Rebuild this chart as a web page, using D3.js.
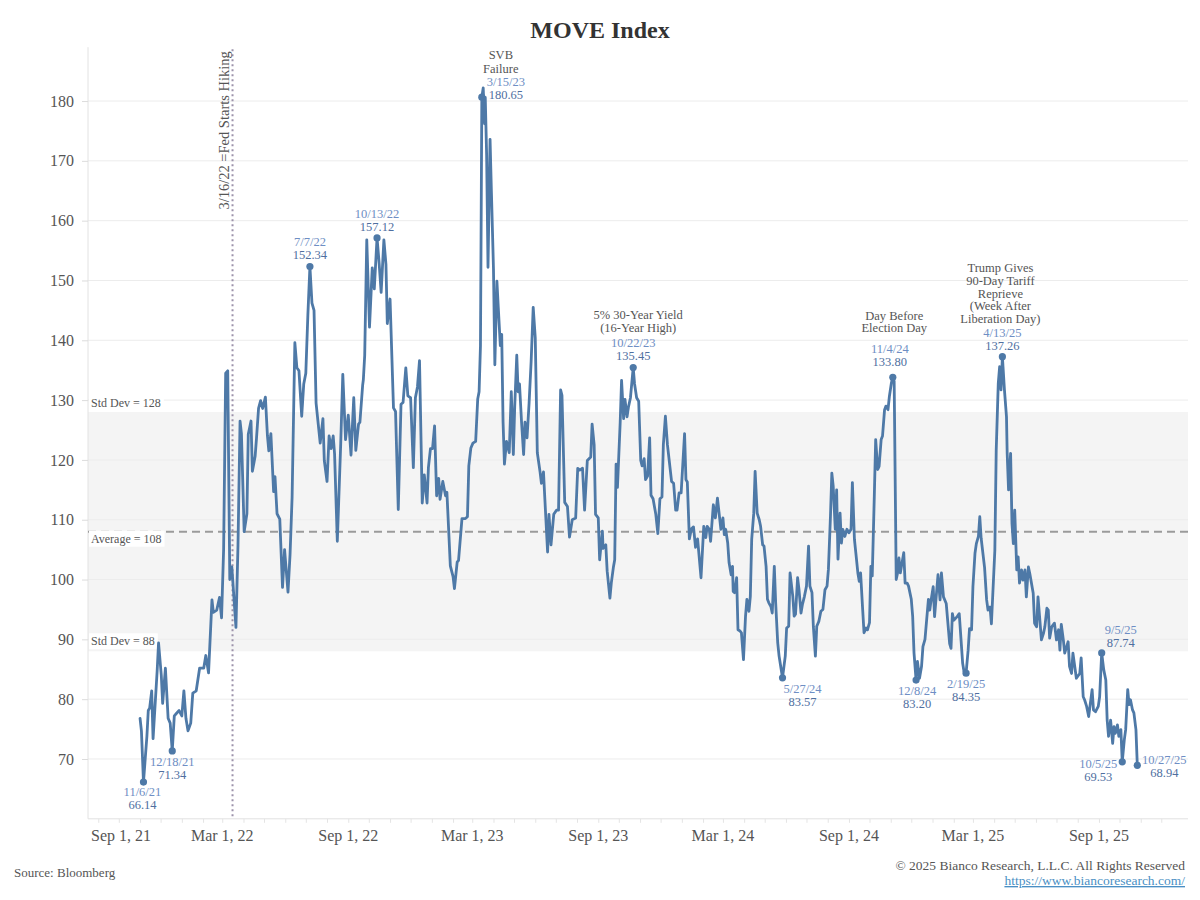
<html>
<head>
<meta charset="utf-8">
<script src="https://d3js.org/d3.v7.min.js"></script>
<style>
  body { margin: 0; background: #fff; }
  text { font-family: "Liberation Serif", "DejaVu Serif", serif; }
</style>
</head>
<body>
<svg width="1200" height="900"></svg>
<script>
// MOVE index (turning points)
var moveDates = [
  "2021-11-01","2021-11-03","2021-11-06","2021-11-11","2021-11-13","2021-11-15","2021-11-18","2021-11-20","2021-11-26","2021-11-28",
  "2021-12-02","2021-12-04","2021-12-08","2021-12-12","2021-12-15","2021-12-18","2021-12-21","2021-12-24","2021-12-28",
  "2022-01-01","2022-01-04","2022-01-07","2022-01-10","2022-01-14","2022-01-17","2022-01-22","2022-01-27",
  "2022-02-02","2022-02-05","2022-02-09","2022-02-14","2022-02-16","2022-02-21","2022-02-25","2022-02-28",
  "2022-03-03","2022-03-06","2022-03-09","2022-03-12","2022-03-15","2022-03-21","2022-03-24","2022-03-27","2022-03-29",
  "2022-04-02","2022-04-06","2022-04-08","2022-04-12","2022-04-14","2022-04-18","2022-04-20","2022-04-23","2022-04-26","2022-04-29",
  "2022-05-03","2022-05-06","2022-05-08","2022-05-11","2022-05-15","2022-05-17","2022-05-20","2022-05-24","2022-05-28","2022-05-31",
  "2022-06-05","2022-06-08","2022-06-11","2022-06-15","2022-06-18","2022-06-21","2022-06-25","2022-06-28",
  "2022-07-01","2022-07-04","2022-07-07","2022-07-10","2022-07-13","2022-07-16","2022-07-22","2022-07-26","2022-07-28",
  "2022-08-01","2022-08-04","2022-08-07","2022-08-10","2022-08-12","2022-08-16","2022-08-21","2022-08-24","2022-08-28",
  "2022-09-01","2022-09-05","2022-09-09","2022-09-12","2022-09-16","2022-09-18","2022-09-22","2022-09-23","2022-09-25","2022-09-28",
  "2022-10-02","2022-10-06","2022-10-09","2022-10-13","2022-10-16","2022-10-19","2022-10-23","2022-10-26","2022-10-28",
  "2022-11-01","2022-11-06","2022-11-09","2022-11-13","2022-11-17","2022-11-20","2022-11-24","2022-11-27",
  "2022-12-01","2022-12-05","2022-12-08","2022-12-11","2022-12-14","2022-12-18","2022-12-21","2022-12-25","2022-12-27","2022-12-30",
  "2023-01-02","2023-01-05","2023-01-08","2023-01-11","2023-01-13","2023-01-17","2023-01-21","2023-01-23","2023-01-28",
  "2023-02-01","2023-02-03","2023-02-07","2023-02-09","2023-02-14","2023-02-19","2023-02-22","2023-02-24","2023-02-27",
  "2023-03-02","2023-03-06","2023-03-09","2023-03-11","2023-03-13","2023-03-15","2023-03-17","2023-03-19","2023-03-20","2023-03-22","2023-03-24","2023-03-27","2023-03-29",
  "2023-04-01","2023-04-03","2023-04-06","2023-04-08","2023-04-11","2023-04-13","2023-04-15","2023-04-17","2023-04-20","2023-04-24","2023-04-27","2023-04-30",
  "2023-05-02","2023-05-05","2023-05-07","2023-05-09","2023-05-12","2023-05-15","2023-05-17","2023-05-20","2023-05-23","2023-05-26","2023-05-29",
  "2023-06-01","2023-06-04","2023-06-08","2023-06-10","2023-06-13","2023-06-15","2023-06-19","2023-06-21","2023-06-24","2023-06-28",
  "2023-07-02","2023-07-05","2023-07-08","2023-07-10","2023-07-14","2023-07-18","2023-07-21","2023-07-25","2023-07-30",
  "2023-08-02","2023-08-05","2023-08-09","2023-08-12","2023-08-16","2023-08-21","2023-08-23","2023-08-26","2023-08-28",
  "2023-09-01","2023-09-03","2023-09-07","2023-09-08","2023-09-12","2023-09-14","2023-09-18","2023-09-20","2023-09-23","2023-09-25","2023-09-27","2023-09-29",
  "2023-10-03","2023-10-05","2023-10-08","2023-10-10","2023-10-13","2023-10-15","2023-10-18","2023-10-22","2023-10-24","2023-10-27","2023-10-30",
  "2023-11-02","2023-11-04","2023-11-07","2023-11-09","2023-11-12","2023-11-15","2023-11-17","2023-11-20","2023-11-24","2023-11-27","2023-11-30",
  "2023-12-03","2023-12-05","2023-12-08","2023-12-11","2023-12-17","2023-12-20","2023-12-23","2023-12-25","2023-12-28","2023-12-31",
  "2024-01-05","2024-01-07","2024-01-09","2024-01-12","2024-01-15","2024-01-18","2024-01-21","2024-01-24","2024-01-29",
  "2024-02-02","2024-02-05","2024-02-07","2024-02-10","2024-02-12","2024-02-16","2024-02-19","2024-02-22","2024-02-27",
  "2024-03-01","2024-03-03","2024-03-05","2024-03-08","2024-03-10","2024-03-13","2024-03-15","2024-03-16","2024-03-18","2024-03-21","2024-03-23","2024-03-26","2024-03-28","2024-03-31",
  "2024-04-03","2024-04-05","2024-04-08","2024-04-10","2024-04-12","2024-04-15","2024-04-17","2024-04-20","2024-04-23","2024-04-25","2024-04-28","2024-04-30",
  "2024-05-03","2024-05-05","2024-05-07","2024-05-10","2024-05-12","2024-05-15","2024-05-17","2024-05-20","2024-05-22","2024-05-25","2024-05-27","2024-05-31",
  "2024-06-02","2024-06-05","2024-06-07","2024-06-11","2024-06-13","2024-06-15","2024-06-18","2024-06-20","2024-06-23","2024-06-25","2024-06-28",
  "2024-07-01","2024-07-04","2024-07-06","2024-07-09","2024-07-11","2024-07-14","2024-07-16","2024-07-19","2024-07-22","2024-07-25","2024-07-28","2024-07-31",
  "2024-08-02","2024-08-05","2024-08-07","2024-08-09","2024-08-12","2024-08-14","2024-08-16","2024-08-19","2024-08-21","2024-08-23","2024-08-26","2024-08-29",
  "2024-09-01","2024-09-04","2024-09-06","2024-09-09","2024-09-11","2024-09-14","2024-09-16","2024-09-18","2024-09-21","2024-09-23","2024-09-26","2024-09-28",
  "2024-10-01","2024-10-03","2024-10-05","2024-10-08","2024-10-10","2024-10-13","2024-10-15","2024-10-18","2024-10-20","2024-10-23","2024-10-25","2024-10-28","2024-10-30",
  "2024-11-02","2024-11-04","2024-11-06","2024-11-09","2024-11-11","2024-11-13","2024-11-15","2024-11-20","2024-11-22","2024-11-25","2024-11-27",
  "2024-12-01","2024-12-03","2024-12-05","2024-12-08","2024-12-10","2024-12-13","2024-12-16","2024-12-18","2024-12-21","2024-12-26","2024-12-28","2024-12-30",
  "2025-01-02","2025-01-04","2025-01-09","2025-01-12","2025-01-14","2025-01-17","2025-01-21","2025-01-26","2025-01-28","2025-01-30",
  "2025-02-01","2025-02-06","2025-02-09","2025-02-14","2025-02-16","2025-02-19","2025-02-22","2025-02-24","2025-02-27",
  "2025-03-01","2025-03-04","2025-03-06","2025-03-09","2025-03-11","2025-03-13","2025-03-18","2025-03-21","2025-03-23","2025-03-26","2025-03-28",
  "2025-04-02","2025-04-04","2025-04-07","2025-04-09","2025-04-11","2025-04-13","2025-04-16","2025-04-19","2025-04-20","2025-04-22","2025-04-25","2025-04-27","2025-04-29",
  "2025-05-01","2025-05-04","2025-05-06","2025-05-08","2025-05-11","2025-05-13","2025-05-16","2025-05-18","2025-05-21","2025-05-23","2025-05-28","2025-05-30",
  "2025-06-02","2025-06-04","2025-06-09","2025-06-12","2025-06-14","2025-06-17","2025-06-19","2025-06-21","2025-06-24","2025-06-28",
  "2025-07-01","2025-07-04","2025-07-06","2025-07-08","2025-07-11","2025-07-13","2025-07-18","2025-07-20","2025-07-23","2025-07-25","2025-07-30",
  "2025-08-04","2025-08-06","2025-08-09","2025-08-11","2025-08-14","2025-08-17","2025-08-22","2025-08-24","2025-08-27","2025-08-31",
  "2025-09-02","2025-09-05","2025-09-08","2025-09-11","2025-09-13","2025-09-15","2025-09-18","2025-09-21","2025-09-23","2025-09-25","2025-09-28","2025-09-30",
  "2025-10-03","2025-10-05","2025-10-08","2025-10-10","2025-10-13","2025-10-15","2025-10-17","2025-10-20","2025-10-22","2025-10-25","2025-10-27"
];
var moveValues = [
  76.8,74.7,66.14,73.8,78.1,78.5,81.4,73.4,84.8,89.4,
  84.0,79.3,85.2,76.8,76.0,71.34,77.2,77.6,78.1,
  77.2,81.4,76.8,74.7,76.0,81.0,81.4,85.2,
  85.2,87.3,84.4,96.6,94.5,94.9,97.0,93.6,
  105.0,134.5,134.9,100.0,102.1,92.0,105.8,126.5,124.4,
  108.0,111.0,124.3,126.5,118.1,120.6,123.6,128.6,129.9,128.6,
  130.5,124.0,121.5,124.4,114.7,117.2,111.0,110.1,98.7,105.0,
  97.9,104.2,113.8,139.6,135.4,134.9,127.3,132.7,
  134.5,144.2,152.34,146.2,145.0,129.5,122.8,126.9,119.9,
  116.4,124.0,121.9,124.0,121.0,106.4,122.8,134.3,123.4,
  127.5,120.8,130.4,121.6,126.0,126.3,132.5,133.4,137.5,156.8,
  142.2,152.1,148.6,157.12,153.0,148.0,156.8,152.7,142.8,
  146.9,128.7,128.1,111.7,129.3,129.6,135.4,130.7,
  130.4,118.7,130.4,132.2,136.6,112.8,117.5,112.8,118.7,121.9,
  121.9,125.7,114.0,116.9,113.4,116.4,114.0,114.6,102.3,
  100.5,98.5,102.9,103.2,110.2,110.2,110.5,119.0,122.0,
  122.8,123.1,130.2,131.4,139.1,180.65,182.2,176.2,180.6,171.0,152.2,173.6,164.7,
  151.9,135.9,149.9,145.5,139.1,141.0,126.3,119.3,123.1,121.2,131.4,120.9,
  128.9,137.5,131.4,132.7,126.3,120.9,126.3,123.7,129.5,136.5,145.5,
  140.4,121.2,118.0,116.1,118.0,113.5,104.6,110.9,105.8,110.9,
  111.6,111.6,131.7,130.8,112.9,112.2,107.1,110.0,110.3,
  118.6,118.3,118.6,111.6,119.9,120.5,126.0,122.5,110.9,
  110.3,103.3,108.1,105.2,105.8,101.4,96.9,99.4,102.0,103.3,119.3,115.4,
  126.3,133.3,126.9,130.1,127.2,128.8,130.4,135.45,132.7,130.4,129.8,
  119.9,119.0,120.2,116.7,117.3,123.7,114.1,113.5,110.9,107.7,113.5,
  113.8,122.5,127.3,122.5,116.4,116.1,111.6,111.6,114.5,114.5,
  124.4,116.7,116.3,106.8,108.5,108.8,105.4,106.8,100.3,
  108.9,107.0,108.9,108.4,106.4,112.5,110.3,113.6,108.4,
  110.3,107.5,108.4,106.1,102.8,100.8,102.2,98.0,97.8,100.3,91.6,91.4,91.1,86.6,
  93.9,96.7,94.7,97.2,106.7,111.1,118.1,111.1,110.0,108.9,105.8,105.6,
  102.2,96.7,96.1,95.5,94.4,102.2,96.1,89.4,87.2,85.0,83.57,87.2,
  91.9,92.2,101.1,97.2,93.9,94.2,100.3,98.4,94.4,95.8,97.2,
  98.9,105.6,98.9,97.8,92.2,87.2,92.2,93.0,94.7,95.0,98.3,98.9,
  101.7,110.6,117.8,115.6,108.4,115.0,103.4,111.1,106.1,108.4,107.2,108.4,
  107.8,108.4,116.2,106.7,104.5,101.1,99.7,101.1,95.0,91.1,91.9,91.6,
  92.8,102.2,100.6,113.9,123.4,118.4,118.9,123.4,124.0,128.4,129.0,128.4,130.6,
  132.9,133.80,133.1,100.0,101.1,103.6,101.1,104.5,99.4,99.4,98.9,
  96.7,93.9,87.7,83.20,86.3,83.5,85.5,88.8,90.0,96.7,94.9,96.6,
  98.8,93.8,100.8,96.6,101.1,97.1,96.0,89.3,88.5,94.3,
  93.2,93.8,94.3,86.0,84.6,84.35,88.2,91.8,91.6,
  98.8,104.4,106.0,107.2,110.5,106.9,102.0,96.6,94.9,95.4,92.6,
  104.9,121.6,132.8,135.6,131.7,137.26,131.7,127.2,121.1,115.0,121.1,109.4,106.0,
  111.6,101.6,103.8,99.4,101.6,99.9,101.6,97.1,102.1,101.0,97.7,92.7,
  92.1,97.1,89.9,91.0,92.1,95.2,94.9,90.2,92.1,92.7,
  89.9,91.6,88.2,92.5,89.9,87.7,89.6,85.5,84.3,87.7,83.5,
  84.3,86.9,80.4,79.9,78.8,77.1,81.6,78.2,77.9,78.8,
  80.4,87.74,84.9,83.2,76.5,73.8,76.5,72.6,75.4,74.3,75.7,73.8,
  74.9,69.53,73.2,74.9,81.6,79.1,79.9,78.2,77.7,74.9,68.94
];

var averageLevel = 108;
var stdDevHigh = 128;
var stdDevLow = 88;
var fedHikeDate = "2022-03-16";

var yTickValues = [70, 80, 90, 100, 110, 120, 130, 140, 150, 160, 170, 180];
var xTickDates = ["2021-09-01","2022-03-01","2022-09-01","2023-03-01","2023-09-01","2024-03-01","2024-09-01","2025-03-01","2025-09-01"];
var xTickLabels = ["Sep 1, 21","Mar 1, 22","Sep 1, 22","Mar 1, 23","Sep 1, 23","Mar 1, 24","Sep 1, 24","Mar 1, 25","Sep 1, 25"];

var calloutDates = ["2021-11-06","2021-12-18","2022-07-07","2022-10-13","2023-03-15","2023-10-22","2024-05-27","2024-11-04","2024-12-08","2025-02-19","2025-04-13","2025-09-05","2025-10-05","2025-10-27"];
var calloutValues = [66.14, 71.34, 152.34, 157.12, 180.65, 135.45, 83.57, 133.80, 83.20, 84.35, 137.26, 87.74, 69.53, 68.94];
var calloutNotes = [[], [], [], [], ["SVB", "Failure"], ["5% 30-Year Yield", "(16-Year High)"], [], ["Day Before", "Election Day"], [], [],
  ["Trump Gives", "90-Day Tariff", "Reprieve", "(Week After", "Liberation Day)"], [], [], []];

// label placement for each callout (pixels, relative to the marker)
var calloutPlacement = [
  {dx: -1, dy: 14}, {dx: 0, dy: 15}, {dx: 0, dy: -20}, {dx: 0, dy: -20},
  {dx: 24, dy: -11, ndx: 19, gap: 13, step: 14},
  {dx: 0, dy: -21, ndx: 5, gap: 15, step: 12.8},
  {dx: 20, dy: 15}, {dx: -3, dy: -24, ndx: 1.5, gap: 21, step: 12.8},
  {dx: 1, dy: 15}, {dx: 0, dy: 15},
  {dx: 0, dy: -20, ndx: -2, gap: 13.5, step: 12.8},
  {dx: 19, dy: -19}, {dx: -24, dy: 6}, {dx: 27, dy: -1}
];

var parse = d3.timeParse("%Y-%m-%d");
var fmtDate = d3.timeFormat("%-m/%-d/%y");
var fmtVal = d3.format(".2f");

var series = moveDates.map(function(d, i) { return {date: parse(d), value: moveValues[i]}; });

var svg = d3.select("svg");
var plotLeft = 88, plotRight = 1188, plotTop = 47.2, plotBottom = 818.8;

var x = d3.scaleTime()
  .domain([parse("2021-08-17"), parse("2026-01-09")])
  .range([plotLeft, plotRight]);
var y = d3.scaleLinear()
  .domain([60, 189])
  .range([plotBottom, plotTop]);

var lineColor = "#4e79a7";
var textGray = "#555";

// std dev band
svg.append("rect")
  .attr("x", plotLeft).attr("width", plotRight - plotLeft)
  .attr("y", y(stdDevHigh)).attr("height", y(stdDevLow) - y(stdDevHigh))
  .attr("fill", "#f4f4f4");

// gridlines
svg.append("g").selectAll("line")
  .data(yTickValues)
  .enter().append("line")
  .attr("x1", plotLeft).attr("x2", plotRight)
  .attr("y1", function(d) { return y(d); })
  .attr("y2", function(d) { return y(d); })
  .attr("stroke", "#ececec").attr("stroke-width", 1);

// y axis
var yAxis = svg.append("g")
  .attr("transform", "translate(" + plotLeft + ",0)")
  .call(d3.axisLeft(y).tickValues(yTickValues).tickSize(6).tickPadding(8));
yAxis.select(".domain").attr("stroke", "#e2e2e2").attr("d", "M0," + plotTop + "V" + plotBottom);
yAxis.selectAll(".tick line").attr("stroke", "#dcdcdc");
yAxis.selectAll(".tick text")
  .attr("fill", textGray)
  .style("font-size", "16px")
  .style("font-family", "'Liberation Serif', serif");

// x axis: monthly minor ticks plus labelled ticks
var months = d3.timeMonth.range(parse("2021-09-01"), parse("2026-01-01"));
var xAxis = svg.append("g")
  .attr("transform", "translate(0," + plotBottom + ")")
  .call(d3.axisBottom(x).tickValues(months).tickSize(4).tickFormat(""));
xAxis.select(".domain").attr("stroke", "#e2e2e2").attr("d", "M" + plotLeft + ",0H" + plotRight);
xAxis.selectAll(".tick line").attr("stroke", "#e4e4e4");

svg.append("g").selectAll("text")
  .data(xTickDates)
  .enter().append("text")
  .attr("x", function(d) { return Math.max(x(parse(d)), plotLeft + 33); })
  .attr("y", plotBottom + 22)
  .attr("text-anchor", "middle")
  .attr("fill", textGray)
  .style("font-size", "16px")
  .text(function(d, i) { return xTickLabels[i]; });

// average line
svg.append("line")
  .attr("x1", plotLeft).attr("x2", plotRight)
  .attr("y1", y(averageLevel)).attr("y2", y(averageLevel))
  .attr("stroke", "#9a9a9a").attr("stroke-width", 2)
  .attr("stroke-dasharray", "8,5");

// reference labels
var refLabels = [
  {text: "Std Dev = " + stdDevHigh, v: stdDevHigh, off: -5},
  {text: "Average = " + averageLevel, v: averageLevel, off: 11},
  {text: "Std Dev = " + stdDevLow, v: stdDevLow, off: -6}
];
refLabels.forEach(function(r) {
  var g = svg.append("g");
  var t = g.append("text")
    .attr("x", plotLeft + 3)
    .attr("y", y(r.v) + r.off)
    .attr("fill", textGray)
    .style("font-size", "12px")
    .text(r.text);
  var bb = t.node().getBBox();
  g.insert("rect", "text")
    .attr("x", plotLeft + 1).attr("y", bb.y - 1)
    .attr("width", bb.width + 5).attr("height", bb.height + 2)
    .attr("fill", "#fff");
});

// Fed hiking marker
var fx = x(parse(fedHikeDate));
svg.append("line")
  .attr("x1", fx).attr("x2", fx)
  .attr("y1", plotTop + 2).attr("y2", plotBottom)
  .attr("stroke", "#9c92aa").attr("stroke-width", 2)
  .attr("stroke-dasharray", "2,3");
svg.append("text")
  .attr("transform", "translate(" + (fx - 4) + "," + (plotTop + 4) + ") rotate(-90)")
  .attr("text-anchor", "end")
  .attr("fill", textGray)
  .style("font-size", "14.5px")
  .text("3/16/22 =Fed Starts Hiking");

// the index line
var line = d3.line()
  .x(function(d) { return x(d.date); })
  .y(function(d) { return y(d.value); });

svg.append("path")
  .datum(series)
  .attr("d", line)
  .attr("fill", "none")
  .attr("stroke", lineColor)
  .attr("stroke-width", 2.8)
  .attr("stroke-linejoin", "round")
  .attr("stroke-linecap", "round");

// callouts
var callouts = calloutDates.map(function(d, i) {
  return {date: parse(d), value: calloutValues[i], notes: calloutNotes[i], p: calloutPlacement[i]};
});

svg.append("g").selectAll("circle")
  .data(callouts)
  .enter().append("circle")
  .attr("cx", function(d) { return x(d.date); })
  .attr("cy", function(d) { return y(d.value); })
  .attr("r", 3.6)
  .attr("fill", lineColor);

var labels = svg.append("g").attr("text-anchor", "middle").style("font-size", "12.5px");
callouts.forEach(function(c) {
  var cx = x(c.date), cy = y(c.value), p = c.p;
  labels.append("text")
    .attr("x", cx + p.dx).attr("y", cy + p.dy)
    .attr("fill", "#6e8ec4")
    .text(fmtDate(c.date));
  labels.append("text")
    .attr("x", cx + p.dx).attr("y", cy + p.dy + 13)
    .attr("fill", "#4f6f9f")
    .text(fmtVal(c.value));
  var n = c.notes.length;
  c.notes.forEach(function(note, j) {
    labels.append("text")
      .attr("x", cx + p.ndx)
      .attr("y", cy + p.dy - p.gap - (n - 1 - j) * p.step)
      .attr("fill", textGray)
      .text(note);
  });
});

// title and footer
svg.append("text")
  .attr("x", 600).attr("y", 38)
  .attr("text-anchor", "middle")
  .attr("fill", "#333")
  .style("font-size", "24px")
  .style("font-weight", "bold")
  .text("MOVE Index");

svg.append("text")
  .attr("x", 14).attr("y", 877)
  .attr("fill", textGray)
  .style("font-size", "13px")
  .text("Source: Bloomberg");

svg.append("text")
  .attr("x", 1185).attr("y", 870)
  .attr("text-anchor", "end")
  .attr("fill", textGray)
  .style("font-size", "13.5px")
  .text("\u00a9 2025 Bianco Research, L.L.C. All Rights Reserved");

svg.append("text")
  .attr("x", 1185).attr("y", 885)
  .attr("text-anchor", "end")
  .attr("fill", "#4a8fc4")
  .style("font-size", "13.5px")
  .style("text-decoration", "underline")
  .text("https://www.biancoresearch.com/");
</script>
</body>
</html>
